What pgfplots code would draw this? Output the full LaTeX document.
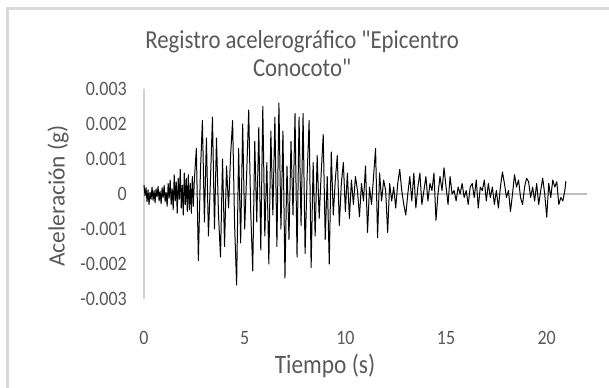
\documentclass[border=0pt]{standalone}
\usepackage{pgfplots}
\pgfplotsset{compat=1.18}
\usepackage{pgfplotstable}
\usepackage{fontspec}
\setmainfont{Carlito}
\newfontfamily\tfont{Carlito}[FakeStretch=0.88]
\newcommand{\dq}{\symbol{34}}
\definecolor{txt}{HTML}{595959}
\definecolor{axln}{HTML}{D0D0D0}
\definecolor{zeroln}{HTML}{BFBFBF}
\definecolor{frame}{HTML}{D9D9D9}
\pgfplotstableread{
t a
0 0.00026
0.05 -0.00005
0.1 0.00018
0.15 -0.00022
0.2 0.00012
0.25 -0.00030
0.3 0.00005
0.35 -0.00015
0.4 0.00020
0.45 -0.00018
0.5 0.00010
0.55 -0.00025
0.6 0.00015
0.65 -0.00008
0.7 0.00022
0.75 -0.00020
0.8 0.00008
0.85 -0.00028
0.9 0.00018
0.95 -0.00010
1.0 0.00025
1.05 -0.00022
1.1 0.00005
1.15 -0.00035
1.2 0.00030
1.25 -0.00012
1.3 0.00040
1.35 -0.00030
1.4 0.00015
1.45 -0.00045
1.5 0.00055
1.55 -0.00020
1.6 0.00035
1.65 -0.00055
1.7 0.00045
1.75 -0.00015
1.8 0.00070
1.85 -0.00040
1.9 0.00025
1.95 -0.00060
2.0 0.00060
2.05 -0.00030
2.1 0.00045
2.15 -0.00050
2.2 0.00055
2.25 -0.00045
2.3 0.00030
2.35 -0.00055
2.4 0.00050
2.45 -0.00035
2.5 0.00040
2.6 0.0013
2.7 -0.0019
2.8 0.0006
2.9 0.0021
3.0 -0.0008
3.1 0.0016
3.2 -0.0012
3.3 0.0004
3.4 0.0022
3.5 -0.0010
3.6 0.0016
3.7 -0.0006
3.8 -0.0018
3.9 0.0010
4.0 -0.0015
4.1 0.0008
4.2 -0.0004
4.3 0.0011
4.4 0.0021
4.5 -0.0009
4.6 -0.0026
4.7 0.0013
4.8 -0.0014
4.9 0.0020
5.0 -0.0010
5.1 0.0006
5.2 0.0024
5.3 -0.0005
5.4 -0.0022
5.5 0.0015
5.6 -0.0008
5.7 0.0019
5.8 -0.0016
5.9 0.0025
6.0 -0.0012
6.1 0.0009
6.2 -0.0020
6.3 0.0018
6.4 -0.0006
6.5 0.0022
6.6 -0.0015
6.7 0.0026
6.8 -0.0010
6.9 0.0018
7.0 -0.0024
7.1 0.0008
7.2 -0.0013
7.3 0.0015
7.4 -0.0006
7.5 0.0023
7.6 -0.0018
7.7 0.0022
7.8 -0.0009
7.9 0.0023
8.0 -0.0017
8.1 0.0005
8.2 0.0021
8.3 -0.0021
8.4 0.0009
8.5 -0.0012
8.6 0.0011
8.7 -0.0007
8.8 0.0006
8.9 0.0017
9.0 -0.0013
9.1 0.0005
9.2 -0.0020
9.3 0.0012
9.4 -0.0006
9.5 0.0004
9.6 0.0011
9.7 -0.0009
9.8 0.0003
9.9 0.0009
10.0 -0.0005
10.1 0.0006
10.2 -0.0007
10.3 0.0004
10.4 -0.0003
10.5 0.0005
10.6 0.0001
10.7 -0.00065
10.8 0.0003
10.9 -0.0002
11.0 0.0008
11.1 -0.0011
11.2 0.0002
11.3 -0.0003
11.4 0.0005
11.5 0.0013
11.6 -0.00125
11.7 0.0006
11.8 -0.0002
11.9 0.0004
12.0 0.0001
12.1 -0.0011
12.2 0.0003
12.3 -0.0002
12.4 0.0002
12.5 -0.0004
12.6 0.0003
12.7 0.0007
12.8 0.0001
12.9 -0.0003
13.0 -0.0006
13.1 0.0000
13.2 0.0005
13.3 -0.0002
13.4 0.0006
13.5 -0.0004
13.6 0.0002
13.7 0.0006
13.8 -0.0003
13.9 0.0001
14.0 0.0005
14.1 -0.0002
14.2 0.0003
14.3 0.0001
14.4 0.0006
14.5 -0.00075
14.6 0.0000
14.7 0.0005
14.8 0.0001
14.9 0.00075
15.0 0.0002
15.1 -0.0003
15.2 0.0005
15.3 0.0000
15.4 0.0001
15.5 -0.0002
15.6 0.0002
15.7 0.0000
15.8 0.0003
15.9 -0.0001
16.0 0.0001
16.1 -0.0003
16.2 0.0002
16.3 0.0003
16.4 -0.0001
16.5 0.0004
16.6 -0.0004
16.7 0.0002
16.8 0.0001
16.9 0.0004
17.0 -0.0002
17.1 0.0003
17.2 -0.0001
17.3 0.0002
17.4 -0.0003
17.5 0.0001
17.6 -0.0004
17.7 0.0002
17.8 0.00063
17.9 0.0003
18.0 -0.0001
18.1 0.0001
18.2 -0.0005
18.3 0.0000
18.4 0.00055
18.5 0.0002
18.6 0.0004
18.7 -0.0001
18.8 -0.0003
18.9 0.0002
19.0 0.00045
19.1 0.00035
19.2 -0.0001
19.3 0.0002
19.4 -0.0002
19.5 0.0003
19.6 -0.0003
19.7 0.0001
19.8 0.00045
19.9 0.0000
20.0 -0.00066
20.1 0.0003
20.2 -0.0001
20.3 0.0004
20.4 0.0002
20.5 0.00035
20.6 -0.0003
20.7 -0.0001
20.8 -0.0002
20.9 0.0001
20.95 0.00037
}\acel
\begin{document}
\begin{tikzpicture}
\path[use as bounding box] (0bp,0bp) rectangle (609bp,388bp);
\fill[white] (0bp,0bp) rectangle (609bp,388bp);
\draw[line width=3bp, frame] (7.5bp,0bp) -- (7.5bp,379.5bp) -- (609bp,379.5bp);
\begin{axis}[
  at={(144bp,89bp)}, anchor=south west,
  scale only axis, width=443bp, height=210bp,
  xmin=0, xmax=22, ymin=-0.003, ymax=0.003,
  scaled y ticks=false, scaled x ticks=false,
  axis line style={draw=none},
  major tick length=0pt, tick style={draw=none},
  xtick={0,5,10,15,20},
  ytick={-0.003,-0.002,-0.001,0,0.001,0.002,0.003},
  yticklabels={-0.003,-0.002,-0.001,0,0.001,0.002,0.003},
  xticklabels={0,5,10,15,20},
  extra x ticks={0}, extra x tick labels={},
  extra x tick style={grid=major, major grid style={draw=axln, line width=1.2bp}},
  extra y ticks={0}, extra y tick labels={},
  extra y tick style={grid=major, major grid style={draw=zeroln, line width=1.2bp}},
  tick label style={font=\tfont\fontsize{20.5}{22}\selectfont, text=txt},
  yticklabel style={anchor=east, inner sep=0pt, xshift=-17bp},
  xticklabel style={anchor=center, inner sep=0pt, yshift=-39bp},
  xlabel={Tiempo (s)},
  ylabel={Aceleración (g)},
  xlabel style={at={(rel axis cs:0.4086,-0.319)}, anchor=center, inner sep=0pt,
    font=\tfont\fontsize{26.7}{30}\selectfont, text=txt},
  ylabel style={at={(rel axis cs:-0.194,0.4905)}, anchor=center, rotate=0, inner sep=0pt,
    font=\fontsize{23.5}{28}\selectfont, text=txt},
  title={Registro acelerográfico \dq Epicentro\\Conocoto\dq},
  title style={at={(rel axis cs:0.357,1.14)}, anchor=center, align=center,
    font=\tfont\fontsize{26}{29}\selectfont, text=txt, inner sep=0pt},
  clip=false,
]
\addplot[black, line width=1bp, line join=round] table[x=t, y=a] {\acel};
\end{axis}
\end{tikzpicture}
\end{document}
